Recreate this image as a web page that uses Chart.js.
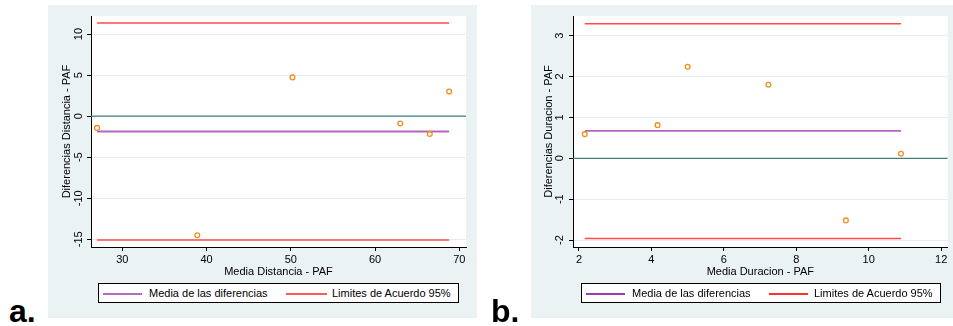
<!DOCTYPE html>
<html>
<head>
<meta charset="utf-8">
<script src="https://cdn.jsdelivr.net/npm/chart.js@4"></script>
<style>
  html, body { margin:0; padding:0; background:#ffffff; width:953px; height:326px; overflow:hidden; font-family:"Liberation Sans", Arial, sans-serif; }
  canvas { position:absolute; }
  .panel-label { position:absolute; font:bold 32px "Liberation Sans", Arial, sans-serif; color:#000; line-height:32px; }
  .legend { position:absolute; box-sizing:border-box; border:1px solid #000; background:#fff; height:20px; }
  .sw { position:absolute; top:9px; height:2px; }
  .lt { position:absolute; top:1px; font:11px "Liberation Sans", Arial, sans-serif; color:#000; line-height:16px; white-space:nowrap; }
</style>
</head>
<body>
<canvas id="c1" width="429" height="313" style="left:48px;top:5px;width:429px;height:313px;"></canvas>
<canvas id="c2" width="422" height="313" style="left:531px;top:5px;width:422px;height:313px;"></canvas>

<div class="legend" style="left:98px;top:283px;width:361px;">
  <div class="sw" style="left:4px;width:39px;background:#b36cc0;"></div>
  <div class="lt" style="left:50px;">Media de las diferencias</div>
  <div class="sw" style="left:187px;width:41px;background:#ff5a5a;"></div>
  <div class="lt" style="left:233px;">Limites de Acuerdo 95%</div>
</div>
<div class="legend" style="left:581px;top:283px;width:360px;">
  <div class="sw" style="left:4px;width:39px;background:#9a3aae;"></div>
  <div class="lt" style="left:50px;">Media de las diferencias</div>
  <div class="sw" style="left:187px;width:39px;background:#ff3030;"></div>
  <div class="lt" style="left:232px;">Limites de Acuerdo 95%</div>
</div>

<div class="panel-label" style="left:9px;top:295px;">a.</div>
<div class="panel-label" style="left:491px;top:295px;">b.</div>

<script>
// ---- Panel a: Distancia ----
const distMediaX = [27.0, 38.9, 50.2, 63.0, 66.5, 68.8];
const distDiffY  = [-1.43, -14.5, 4.72, -0.9, -2.16, 2.99];
const distLineX  = [27.0, 68.8];
const distMean   = -1.87;
const distUpper  = 11.34;
const distLower  = -15.08;
const distXTicks = [30, 40, 50, 60, 70];
const distYTicks = [-15, -10, -5, 0, 5, 10];
const distXRange = [26.28, 70.8];
const distYRange = [-15.94, 12.2];

// ---- Panel b: Duracion ----
const durMediaX = [2.16, 4.17, 5.0, 7.23, 9.37, 10.89];
const durDiffY  = [0.59, 0.81, 2.24, 1.80, -1.52, 0.11];
const durLineX  = [2.16, 10.89];
const durMean   = 0.67;
const durUpper  = 3.29;
const durLower  = -1.96;
const durXTicks = [2, 4, 6, 8, 10, 12];
const durYTicks = [-2, -1, 0, 1, 2, 3];
const durXRange = [1.835, 12.18];
const durYRange = [-2.17, 3.48];

const FONT = '"Liberation Sans", Arial, sans-serif';

const bgPlugin = {
  id: 'bgPlugin',
  beforeDraw(chart) {
    const ctx = chart.ctx, a = chart.chartArea;
    ctx.save();
    ctx.fillStyle = '#eaf2f3';
    ctx.fillRect(0, 0, chart.width, chart.height);
    ctx.fillStyle = '#ffffff';
    ctx.fillRect(a.left, a.top, a.right - a.left, a.bottom - a.top);
    ctx.restore();
  }
};

const yTickLabelPlugin = {
  id: 'yTickLabels',
  afterDraw(chart, args, opts) {
    const s = chart.scales.y, ctx = chart.ctx;
    ctx.save();
    ctx.font = '11px ' + FONT;
    ctx.fillStyle = '#000';
    ctx.textAlign = 'center';
    ctx.textBaseline = 'middle';
    s.ticks.forEach(t => {
      const y = s.getPixelForValue(t.value);
      ctx.save();
      ctx.translate(chart.chartArea.left - opts.offset, y);
      ctx.rotate(-Math.PI / 2);
      ctx.fillText(String(t.value), 0, 0);
      ctx.restore();
    });
    ctx.restore();
  }
};

function lineData(xs, y) { return xs.map(x => ({x: x, y: y})); }

function makeChart(id, p) {
  const pts = p.xs.map((x, i) => ({x: x, y: p.ys[i]}));
  return new Chart(document.getElementById(id), {
    type: 'scatter',
    data: {
      datasets: [
        { data: pts, showLine: false, pointRadius: 2.4, pointBorderWidth: 1.3,
          pointBorderColor: '#f0901e', pointBackgroundColor: 'rgba(0,0,0,0)' },
        { data: lineData(p.lineX, p.upper), showLine: true, borderColor: p.red, borderWidth: 1.5, pointRadius: 0 },
        { data: lineData(p.lineX, p.lower), showLine: true, borderColor: p.red, borderWidth: 1.5, pointRadius: 0 },
        { data: lineData(p.lineX, p.mean), showLine: true, borderColor: p.purple, borderWidth: 1.8, pointRadius: 0 },
        { data: lineData(p.xRange, 0), showLine: true, borderColor: '#3f7f7a', borderWidth: 1.3, pointRadius: 0 }
      ]
    },
    options: {
      animation: false, responsive: false, devicePixelRatio: 1,
      layout: { padding: { left: 0, top: 11, right: p.padRight, bottom: 39 } },
      plugins: { legend: { display: false }, tooltip: { enabled: false }, yTickLabels: { offset: p.yLabOff } },
      scales: {
        x: {
          type: 'linear', min: p.xRange[0], max: p.xRange[1],
          afterBuildTicks: s => { s.ticks = p.xTicks.map(v => ({value: v})); },
          afterFit: s => { s.height = 32; },
          grid: { drawOnChartArea: false, drawTicks: true, tickLength: 4, tickColor: '#000', color: '#000' },
          border: { display: true, color: '#000', width: 1 },
          ticks: { font: { size: 11, family: FONT }, color: '#000', padding: 2, maxRotation: 0, minRotation: 0 },
          title: { display: true, text: p.xTitle, font: { size: 11, family: FONT }, color: '#000', padding: { top: 1, bottom: 0 } }
        },
        y: {
          type: 'linear', min: p.yRange[0], max: p.yRange[1],
          afterBuildTicks: s => { s.ticks = p.yTicks.map(v => ({value: v})); },
          afterFit: s => { s.width = p.yWidth; },
          grid: { drawOnChartArea: true, drawTicks: true, tickLength: 4, tickColor: '#000', color: '#e4eef0', lineWidth: 1 },
          border: { display: true, color: '#000', width: 1 },
          ticks: { display: false },
          title: { display: true, text: p.yTitle, font: { size: 11, family: FONT }, color: '#000', padding: { top: p.yTitlePad, bottom: 0 } }
        }
      }
    },
    plugins: [bgPlugin, yTickLabelPlugin]
  });
}

makeChart('c1', {
  xs: distMediaX, ys: distDiffY, lineX: distLineX, mean: distMean, upper: distUpper, lower: distLower,
  xTicks: distXTicks, yTicks: distYTicks, xRange: distXRange, yRange: distYRange,
  xTitle: 'Media Distancia - PAF', yTitle: 'Diferencias Distancia - PAF',
  red: '#ff4a4a', purple: '#b366c0', padRight: 11, yWidth: 43, yLabOff: 12, yTitlePad: 12
});
makeChart('c2', {
  xs: durMediaX, ys: durDiffY, lineX: durLineX, mean: durMean, upper: durUpper, lower: durLower,
  xTicks: durXTicks, yTicks: durYTicks, xRange: durXRange, yRange: durYRange,
  xTitle: 'Media Duracion - PAF', yTitle: 'Diferencias Duracion - PAF',
  red: '#ff4a4a', purple: '#b366c0', padRight: 5, yWidth: 42, yLabOff: 13, yTitlePad: 11
});
</script>
</body>
</html>
